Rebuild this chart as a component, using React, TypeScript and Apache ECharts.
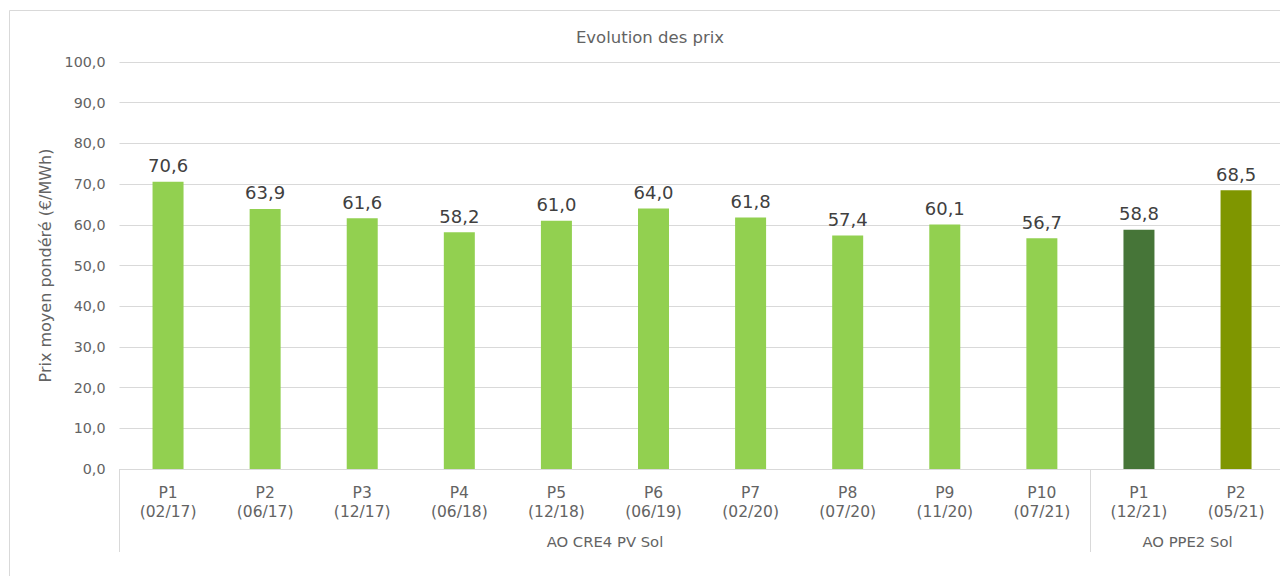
import React, { useEffect, useRef } from "react";
import * as echarts from "echarts";

const categories = [
  "P1\n(02/17)", "P2\n(06/17)", "P3\n(12/17)", "P4\n(06/18)", "P5\n(12/18)",
  "P6\n(06/19)", "P7\n(02/20)", "P8\n(07/20)", "P9\n(11/20)", "P10\n(07/21)",
  "P1\n(12/21)", "P2\n(05/21)",
];
const values = [70.6, 63.9, 61.6, 58.2, 61.0, 64.0, 61.8, 57.4, 60.1, 56.7, 58.8, 68.5];
const barColors = [
  "#92D050", "#92D050", "#92D050", "#92D050", "#92D050", "#92D050",
  "#92D050", "#92D050", "#92D050", "#92D050", "#467538", "#7F9600",
];
const groups = [
  { name: "AO CRE4 PV Sol", start: 0, end: 10 },
  { name: "AO PPE2 Sol", start: 10, end: 12 },
];
const title = "Evolution des prix";
const yName = "Prix moyen pondéré (€/MWh)";

const fmt = (v: number) => v.toFixed(1).replace(".", ",");

export default function App() {
  const ref = useRef<HTMLDivElement>(null);
  useEffect(() => {
    if (!ref.current) return;
    const chart = echarts.init(ref.current, undefined, { renderer: "svg" });
    const font = "'DejaVu Sans', Verdana, sans-serif";
    const textColor = "#636363";
    chart.setOption({
      animation: false,
      backgroundColor: "#ffffff",
      title: {
        text: title,
        left: 645,
        textAlign: "center",
        top: 24,
        textStyle: { fontFamily: font, fontSize: 16.5, fontWeight: "normal", color: textColor },
      },
      graphic: [
        {
          type: "rect",
          shape: { x: 9.5, y: 10.5, width: 1300, height: 600 },
          style: { fill: "none", stroke: "#d9d9d9", lineWidth: 1 },
          silent: true,
        },
      ],
      grid: { left: 119.5, top: 62, bottom: 107, right: 5.4, containLabel: false },
      xAxis: [
        {
          type: "category",
          data: categories,
          position: "bottom",
          axisLine: { show: true, lineStyle: { color: "#d9d9d9", width: 1 } },
          axisTick: { show: false },
          axisLabel: {
            interval: 0,
            margin: 14,
            fontFamily: font,
            fontSize: 15.5,
            lineHeight: 19,
            color: textColor,
          },
        },
        {
          type: "value",
          min: 0,
          max: 12,
          position: "bottom",
          axisLine: { show: false },
          splitLine: { show: false },
          axisTick: {
            show: true,
            customValues: groups.map((g) => g.start),
            length: 83,
            lineStyle: { color: "#d9d9d9", width: 1 },
          },
          axisLabel: {
            show: true,
            customValues: groups.map((g) => (g.start + g.end) / 2),
            margin: 65,
            fontFamily: font,
            fontSize: 14.8,
            color: textColor,
            formatter: (v: number) => {
              const g = groups.find((gg) => (gg.start + gg.end) / 2 === v);
              return g ? g.name : "";
            },
          },
        },
      ],
      yAxis: {
        type: "value",
        min: 0,
        max: 100,
        interval: 10,
        name: yName,
        nameLocation: "middle",
        nameGap: 58,
        nameTextStyle: { fontFamily: font, fontSize: 16, color: textColor },
        axisLine: { show: false },
        axisTick: { show: false },
        splitLine: { lineStyle: { color: "#d9d9d9", width: 1 } },
        axisLabel: {
          margin: 14,
          fontFamily: font,
          fontSize: 14.3,
          color: textColor,
          formatter: (v: number) => fmt(v),
        },
      },
      series: [
        {
          type: "bar",
          xAxisIndex: 0,
          barWidth: 31,
          data: values.map((v, i) => ({ value: v, itemStyle: { color: barColors[i] } })),
          label: {
            show: true,
            position: "top",
            distance: 7,
            fontFamily: font,
            fontSize: 18,
            color: "#404040",
            formatter: (p: any) => fmt(p.value),
          },
        },
      ],
    });
    return () => chart.dispose();
  }, []);
  return (
    <div
      ref={ref}
      style={{ position: "fixed", left: 0, top: 0, width: 1290, height: 576 }}
    />
  );
}
